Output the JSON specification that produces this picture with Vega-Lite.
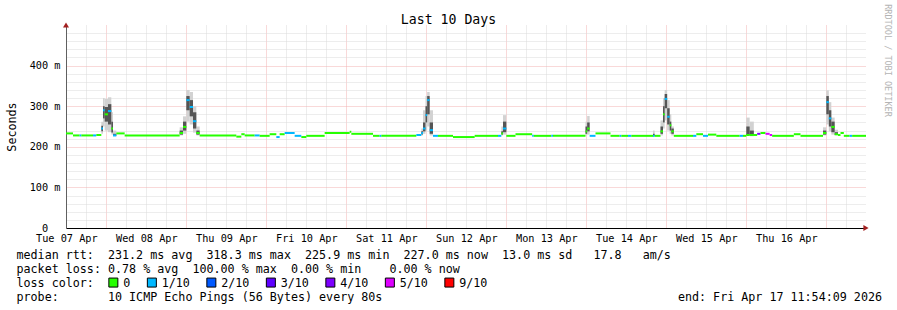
{
  "$schema": "https://vega.github.io/schema/vega-lite/v6.json",
  "width": 800,
  "height": 203,
  "autosize": {"type": "none"},
  "padding": {"left": 66, "top": 25, "right": 31, "bottom": 82},
  "background": "#ffffff",
  "config": {"view": {"stroke": null}, "font": "DejaVu Sans Mono", "legend": {"symbolStrokeColor": "#000000", "symbolStrokeWidth": 1}},
  "data": {"values": [
    {"t0":"2026-04-07T11:54:09Z","t1":"2026-04-07T14:00:00Z","med":233,"loss":"0"},
    {"t0":"2026-04-07T14:00:00Z","t1":"2026-04-07T16:00:00Z","med":228,"loss":"0"},
    {"t0":"2026-04-07T16:00:00Z","t1":"2026-04-07T16:30:00Z","med":228,"loss":"1/10"},
    {"t0":"2026-04-07T16:30:00Z","t1":"2026-04-07T20:00:00Z","med":228,"loss":"0"},
    {"t0":"2026-04-07T20:00:00Z","t1":"2026-04-07T21:00:00Z","med":228,"loss":"1/10"},
    {"t0":"2026-04-07T21:00:00Z","t1":"2026-04-07T22:30:00Z","med":229,"loss":"0"},
    {"t0":"2026-04-07T22:30:00Z","t1":"2026-04-07T23:00:00Z","med":245,"loss":"1/10","lo":232,"q1":238,"q3":252,"hi":262},
    {"t0":"2026-04-07T23:00:00Z","t1":"2026-04-07T23:30:00Z","med":290,"loss":"1/10","lo":250,"q1":270,"q3":300,"hi":320},
    {"t0":"2026-04-07T23:30:00Z","t1":"2026-04-08T00:30:00Z","med":280,"loss":"0","lo":240,"q1":262,"q3":298,"hi":318},
    {"t0":"2026-04-08T00:30:00Z","t1":"2026-04-08T01:30:00Z","med":288,"loss":"1/10","lo":236,"q1":255,"q3":305,"hi":322},
    {"t0":"2026-04-08T01:30:00Z","t1":"2026-04-08T02:00:00Z","med":245,"loss":"0","lo":230,"q1":235,"q3":262,"hi":285},
    {"t0":"2026-04-08T02:00:00Z","t1":"2026-04-08T03:00:00Z","med":228,"loss":"1/10","lo":226,"q1":227,"q3":232,"hi":240},
    {"t0":"2026-04-08T03:00:00Z","t1":"2026-04-08T05:30:00Z","med":233,"loss":"0"},
    {"t0":"2026-04-08T05:30:00Z","t1":"2026-04-08T22:00:00Z","med":228,"loss":"0"},
    {"t0":"2026-04-08T22:00:00Z","t1":"2026-04-08T23:00:00Z","med":234,"loss":"0","lo":228,"q1":230,"q3":240,"hi":248},
    {"t0":"2026-04-08T23:00:00Z","t1":"2026-04-09T00:00:00Z","med":249,"loss":"0","lo":232,"q1":240,"q3":262,"hi":275},
    {"t0":"2026-04-09T00:00:00Z","t1":"2026-04-09T01:00:00Z","med":315,"loss":"1/10","lo":262,"q1":290,"q3":325,"hi":340},
    {"t0":"2026-04-09T01:00:00Z","t1":"2026-04-09T02:00:00Z","med":298,"loss":"1/10","lo":255,"q1":275,"q3":315,"hi":335},
    {"t0":"2026-04-09T02:00:00Z","t1":"2026-04-09T03:00:00Z","med":263,"loss":"1/10","lo":235,"q1":245,"q3":285,"hi":300},
    {"t0":"2026-04-09T03:00:00Z","t1":"2026-04-09T04:00:00Z","med":234,"loss":"0","lo":228,"q1":230,"q3":240,"hi":250},
    {"t0":"2026-04-09T04:00:00Z","t1":"2026-04-09T15:00:00Z","med":228,"loss":"0"},
    {"t0":"2026-04-09T15:00:00Z","t1":"2026-04-09T16:30:00Z","med":225,"loss":"0"},
    {"t0":"2026-04-09T16:30:00Z","t1":"2026-04-09T17:30:00Z","med":231,"loss":"0"},
    {"t0":"2026-04-09T17:30:00Z","t1":"2026-04-09T20:30:00Z","med":228,"loss":"0"},
    {"t0":"2026-04-09T20:30:00Z","t1":"2026-04-09T22:00:00Z","med":228,"loss":"1/10"},
    {"t0":"2026-04-09T22:00:00Z","t1":"2026-04-10T01:00:00Z","med":227,"loss":"0"},
    {"t0":"2026-04-10T01:00:00Z","t1":"2026-04-10T03:00:00Z","med":231,"loss":"0"},
    {"t0":"2026-04-10T03:00:00Z","t1":"2026-04-10T04:00:00Z","med":224,"loss":"1/10"},
    {"t0":"2026-04-10T04:00:00Z","t1":"2026-04-10T05:30:00Z","med":231,"loss":"0"},
    {"t0":"2026-04-10T05:30:00Z","t1":"2026-04-10T08:30:00Z","med":234,"loss":"1/10"},
    {"t0":"2026-04-10T08:30:00Z","t1":"2026-04-10T10:30:00Z","med":227,"loss":"1/10"},
    {"t0":"2026-04-10T10:30:00Z","t1":"2026-04-10T12:00:00Z","med":224,"loss":"0"},
    {"t0":"2026-04-10T12:00:00Z","t1":"2026-04-10T17:30:00Z","med":227,"loss":"0"},
    {"t0":"2026-04-10T17:30:00Z","t1":"2026-04-11T01:00:00Z","med":234,"loss":"0"},
    {"t0":"2026-04-11T01:00:00Z","t1":"2026-04-11T01:30:00Z","med":237,"loss":"0"},
    {"t0":"2026-04-11T01:30:00Z","t1":"2026-04-11T08:00:00Z","med":232,"loss":"0"},
    {"t0":"2026-04-11T08:00:00Z","t1":"2026-04-11T10:00:00Z","med":227,"loss":"0"},
    {"t0":"2026-04-11T10:00:00Z","t1":"2026-04-11T10:30:00Z","med":227,"loss":"1/10"},
    {"t0":"2026-04-11T10:30:00Z","t1":"2026-04-11T21:00:00Z","med":227,"loss":"0"},
    {"t0":"2026-04-11T21:00:00Z","t1":"2026-04-11T22:30:00Z","med":229,"loss":"1/10"},
    {"t0":"2026-04-11T22:30:00Z","t1":"2026-04-11T23:00:00Z","med":234,"loss":"1/10","lo":228,"q1":230,"q3":238,"hi":245},
    {"t0":"2026-04-11T23:00:00Z","t1":"2026-04-11T23:45:00Z","med":245,"loss":"1/10","lo":232,"q1":238,"q3":260,"hi":290},
    {"t0":"2026-04-11T23:45:00Z","t1":"2026-04-12T00:15:00Z","med":278,"loss":"1/10","lo":240,"q1":260,"q3":300,"hi":325},
    {"t0":"2026-04-12T00:15:00Z","t1":"2026-04-12T01:00:00Z","med":315,"loss":"1/10","lo":250,"q1":280,"q3":325,"hi":335},
    {"t0":"2026-04-12T01:00:00Z","t1":"2026-04-12T02:00:00Z","med":241,"loss":"1/10","lo":228,"q1":232,"q3":260,"hi":290},
    {"t0":"2026-04-12T02:00:00Z","t1":"2026-04-12T03:30:00Z","med":227,"loss":"1/10"},
    {"t0":"2026-04-12T03:30:00Z","t1":"2026-04-12T08:00:00Z","med":227,"loss":"0"},
    {"t0":"2026-04-12T08:00:00Z","t1":"2026-04-12T14:30:00Z","med":224,"loss":"0"},
    {"t0":"2026-04-12T14:30:00Z","t1":"2026-04-12T21:30:00Z","med":227,"loss":"0"},
    {"t0":"2026-04-12T21:30:00Z","t1":"2026-04-12T22:30:00Z","med":227,"loss":"1/10"},
    {"t0":"2026-04-12T22:30:00Z","t1":"2026-04-12T23:00:00Z","med":233,"loss":"0","lo":228,"q1":230,"q3":238,"hi":250},
    {"t0":"2026-04-12T23:00:00Z","t1":"2026-04-13T00:00:00Z","med":245,"loss":"1/10","lo":230,"q1":236,"q3":262,"hi":278},
    {"t0":"2026-04-13T00:00:00Z","t1":"2026-04-13T02:45:00Z","med":227,"loss":"0"},
    {"t0":"2026-04-13T02:45:00Z","t1":"2026-04-13T07:45:00Z","med":231,"loss":"0"},
    {"t0":"2026-04-13T07:45:00Z","t1":"2026-04-13T08:15:00Z","med":227,"loss":"1/10"},
    {"t0":"2026-04-13T08:15:00Z","t1":"2026-04-13T13:30:00Z","med":227,"loss":"0"},
    {"t0":"2026-04-13T13:30:00Z","t1":"2026-04-13T14:00:00Z","med":227,"loss":"1/10"},
    {"t0":"2026-04-13T14:00:00Z","t1":"2026-04-13T23:45:00Z","med":227,"loss":"0"},
    {"t0":"2026-04-13T23:45:00Z","t1":"2026-04-14T00:15:00Z","med":238,"loss":"0","lo":228,"q1":232,"q3":250,"hi":262},
    {"t0":"2026-04-14T00:15:00Z","t1":"2026-04-14T01:00:00Z","med":245,"loss":"0","lo":230,"q1":238,"q3":260,"hi":276},
    {"t0":"2026-04-14T01:00:00Z","t1":"2026-04-14T02:45:00Z","med":227,"loss":"1/10"},
    {"t0":"2026-04-14T02:45:00Z","t1":"2026-04-14T07:15:00Z","med":233,"loss":"0"},
    {"t0":"2026-04-14T07:15:00Z","t1":"2026-04-14T10:00:00Z","med":227,"loss":"0"},
    {"t0":"2026-04-14T10:00:00Z","t1":"2026-04-14T10:30:00Z","med":227,"loss":"1/10"},
    {"t0":"2026-04-14T10:30:00Z","t1":"2026-04-14T12:30:00Z","med":227,"loss":"0"},
    {"t0":"2026-04-14T12:30:00Z","t1":"2026-04-14T13:30:00Z","med":227,"loss":"1/10"},
    {"t0":"2026-04-14T13:30:00Z","t1":"2026-04-14T20:00:00Z","med":227,"loss":"0"},
    {"t0":"2026-04-14T20:00:00Z","t1":"2026-04-14T20:30:00Z","med":227,"loss":"1/10","lo":225,"q1":227,"q3":232,"hi":240},
    {"t0":"2026-04-14T20:30:00Z","t1":"2026-04-14T22:15:00Z","med":227,"loss":"0"},
    {"t0":"2026-04-14T22:15:00Z","t1":"2026-04-14T23:00:00Z","med":238,"loss":"0","lo":228,"q1":232,"q3":250,"hi":265},
    {"t0":"2026-04-14T23:00:00Z","t1":"2026-04-14T23:30:00Z","med":280,"loss":"0","lo":245,"q1":260,"q3":300,"hi":320},
    {"t0":"2026-04-14T23:30:00Z","t1":"2026-04-15T00:15:00Z","med":318,"loss":"1/10","lo":265,"q1":295,"q3":330,"hi":340},
    {"t0":"2026-04-15T00:15:00Z","t1":"2026-04-15T01:00:00Z","med":274,"loss":"1/10","lo":240,"q1":255,"q3":295,"hi":315},
    {"t0":"2026-04-15T01:00:00Z","t1":"2026-04-15T01:30:00Z","med":253,"loss":"0","lo":232,"q1":240,"q3":262,"hi":280},
    {"t0":"2026-04-15T01:30:00Z","t1":"2026-04-15T02:15:00Z","med":238,"loss":"0","lo":228,"q1":232,"q3":245,"hi":250},
    {"t0":"2026-04-15T02:15:00Z","t1":"2026-04-15T08:00:00Z","med":227,"loss":"0"},
    {"t0":"2026-04-15T08:00:00Z","t1":"2026-04-15T09:00:00Z","med":227,"loss":"1/10"},
    {"t0":"2026-04-15T09:00:00Z","t1":"2026-04-15T11:00:00Z","med":231,"loss":"0"},
    {"t0":"2026-04-15T11:00:00Z","t1":"2026-04-15T12:30:00Z","med":227,"loss":"1/10"},
    {"t0":"2026-04-15T12:30:00Z","t1":"2026-04-15T15:00:00Z","med":230,"loss":"0"},
    {"t0":"2026-04-15T15:00:00Z","t1":"2026-04-15T22:00:00Z","med":227,"loss":"0"},
    {"t0":"2026-04-15T22:00:00Z","t1":"2026-04-15T23:00:00Z","med":227,"loss":"1/10"},
    {"t0":"2026-04-15T23:00:00Z","t1":"2026-04-16T00:00:00Z","med":227,"loss":"0"},
    {"t0":"2026-04-16T00:00:00Z","t1":"2026-04-16T01:00:00Z","med":229,"loss":"0","lo":227,"q1":229,"q3":250,"hi":272},
    {"t0":"2026-04-16T01:00:00Z","t1":"2026-04-16T02:15:00Z","med":229,"loss":"0","lo":226,"q1":228,"q3":240,"hi":262},
    {"t0":"2026-04-16T02:15:00Z","t1":"2026-04-16T03:15:00Z","med":229,"loss":"0"},
    {"t0":"2026-04-16T03:15:00Z","t1":"2026-04-16T04:15:00Z","med":232,"loss":"4/10"},
    {"t0":"2026-04-16T04:15:00Z","t1":"2026-04-16T05:45:00Z","med":234,"loss":"0"},
    {"t0":"2026-04-16T05:45:00Z","t1":"2026-04-16T07:00:00Z","med":232,"loss":"5/10"},
    {"t0":"2026-04-16T07:00:00Z","t1":"2026-04-16T07:45:00Z","med":229,"loss":"5/10"},
    {"t0":"2026-04-16T07:45:00Z","t1":"2026-04-16T14:15:00Z","med":227,"loss":"0"},
    {"t0":"2026-04-16T14:15:00Z","t1":"2026-04-16T16:15:00Z","med":231,"loss":"0"},
    {"t0":"2026-04-16T16:15:00Z","t1":"2026-04-16T23:00:00Z","med":227,"loss":"0"},
    {"t0":"2026-04-16T23:00:00Z","t1":"2026-04-17T00:00:00Z","med":234,"loss":"0","lo":228,"q1":230,"q3":240,"hi":248},
    {"t0":"2026-04-17T00:00:00Z","t1":"2026-04-17T00:45:00Z","med":310,"loss":"1/10","lo":255,"q1":280,"q3":325,"hi":339},
    {"t0":"2026-04-17T00:45:00Z","t1":"2026-04-17T01:30:00Z","med":270,"loss":"1/10","lo":238,"q1":250,"q3":290,"hi":310},
    {"t0":"2026-04-17T01:30:00Z","t1":"2026-04-17T02:30:00Z","med":249,"loss":"0","lo":230,"q1":236,"q3":262,"hi":272},
    {"t0":"2026-04-17T02:30:00Z","t1":"2026-04-17T03:30:00Z","med":231,"loss":"0","lo":228,"q1":229,"q3":236,"hi":242},
    {"t0":"2026-04-17T03:30:00Z","t1":"2026-04-17T04:15:00Z","med":229,"loss":"0"},
    {"t0":"2026-04-17T04:15:00Z","t1":"2026-04-17T05:15:00Z","med":234,"loss":"0"},
    {"t0":"2026-04-17T05:15:00Z","t1":"2026-04-17T07:00:00Z","med":227,"loss":"0"},
    {"t0":"2026-04-17T07:00:00Z","t1":"2026-04-17T07:45:00Z","med":227,"loss":"1/10"},
    {"t0":"2026-04-17T07:45:00Z","t1":"2026-04-17T11:54:09Z","med":227,"loss":"0"}
  ]},
  "resolve": {"axis": {"x": "independent", "y": "independent"}},
  "layer": [
    {
      "mark": {"type": "rect", "color": "#d2d2d2"},
      "encoding": {
        "x": {
          "field": "t0", "type": "temporal",
          "scale": {"type": "utc", "nice": false, "domain": [1775562849000, 1776426849000]},
          "axis": {
            "orient": "bottom",
            "values": [1775563200000,1775584800000,1775606400000,1775628000000,1775649600000,1775671200000,1775692800000,1775714400000,1775736000000,1775757600000,1775779200000,1775800800000,1775822400000,1775844000000,1775865600000,1775887200000,1775908800000,1775930400000,1775952000000,1775973600000,1775995200000,1776016800000,1776038400000,1776060000000,1776081600000,1776103200000,1776124800000,1776146400000,1776168000000,1776189600000,1776211200000,1776232800000,1776254400000,1776276000000,1776297600000,1776319200000,1776340800000,1776362400000,1776384000000,1776405600000],
            "labelExpr": "utchours(datum.value) == 12 ? utcFormat(datum.value, '%a %d %b') : ''",
            "labelOverlap": false, "labelFlush": false, "labelBound": false,
            "labelFont": "DejaVu Sans Mono", "labelFontSize": 10.24, "labelColor": "#000000",
            "labelPadding": 5.5, "labelAngle": 0,
            "ticks": false,
            "domainColor": "#000000", "domainWidth": 1,
            "grid": true,
            "gridColor": {"condition": {"test": "utchours(datum.value) == 0", "value": "#f2b2b2"}, "value": "#dadada"},
            "gridDash": [1, 1], "gridOpacity": 1, "gridWidth": 1,
            "title": [
              "median rtt:\u00a0\u00a0231.2 ms avg\u00a0\u00a0318.3 ms max\u00a0\u00a0225.9 ms min\u00a0\u00a0227.0 ms now\u00a0\u00a013.0 ms sd\u00a0\u00a0\u00a017.8\u00a0\u00a0\u00a0am/s",
              "packet loss: 0.78 % avg\u00a0\u00a0100.00 % max\u00a0\u00a00.00 % min\u00a0\u00a0\u00a0\u00a00.00 % now",
              "loss color:",
              "probe:\u00a0\u00a0\u00a0\u00a0\u00a0\u00a0\u00a010 ICMP Echo Pings (56 Bytes) every 80s\u00a0\u00a0\u00a0\u00a0\u00a0\u00a0\u00a0\u00a0\u00a0\u00a0\u00a0\u00a0\u00a0\u00a0\u00a0\u00a0\u00a0\u00a0\u00a0\u00a0\u00a0\u00a0\u00a0\u00a0\u00a0\u00a0\u00a0\u00a0\u00a0\u00a0\u00a0\u00a0\u00a0\u00a0\u00a0\u00a0\u00a0\u00a0\u00a0\u00a0\u00a0\u00a0end: Fri Apr 17 11:54:09 2026"
            ],
            "titleFont": "DejaVu Sans Mono", "titleFontSize": 11.7, "titleFontWeight": "normal", "titleColor": "#000000",
            "titleX": -50, "titleY": 30, "titleAlign": "left", "titleAnchor": "start", "titleBaseline": "alphabetic", "titleLineHeight": 14, "titleAngle": 0
          }
        },
        "x2": {"field": "t1"},
        "y": {
          "field": "lo", "type": "quantitative",
          "scale": {"domain": [0, 500], "nice": false},
          "axis": {
            "orient": "left",
            "values": [0,20,40,60,80,100,120,140,160,180,200,220,240,260,280,300,320,340,360,380,400,420,440,460,480],
            "labelExpr": "datum.value % 100 == 0 ? (datum.value == 0 ? '0\u00a0\u00a0\u200b' : datum.value + ' m') : ''",
            "labelFont": "DejaVu Sans Mono", "labelFontSize": 10.24, "labelColor": "#000000",
            "labelPadding": 6, "labelOverlap": false, "labelFlush": false, "labelBound": false, "labelBaseline": "middle",
            "ticks": false,
            "domainColor": "#606060", "domainWidth": 1,
            "grid": true,
            "gridColor": {"condition": {"test": "datum.value % 100 == 0", "value": "#f2b2b2"}, "value": "#dadada"},
            "gridDash": [1, 1], "gridOpacity": 1, "gridWidth": 1,
            "title": "Seconds",
            "titleFont": "DejaVu Sans Mono", "titleFontSize": 11.7, "titleFontWeight": "normal", "titleColor": "#000000",
            "titleX": -55, "titleY": 101.5, "titleAngle": 270, "titleAlign": "center", "titleBaseline": "middle"
          }
        },
        "y2": {"field": "hi"}
      }
    },
    {
      "mark": {"type": "rect", "color": "#555555"},
      "encoding": {
        "x": {"field": "t0", "type": "temporal", "axis": null},
        "x2": {"field": "t1"},
        "y": {"field": "q1", "type": "quantitative", "axis": null},
        "y2": {"field": "q3"}
      }
    },
    {
      "mark": {"type": "rect", "height": 2},
      "encoding": {
        "x": {
          "field": "t0", "type": "temporal",
          "axis": {
            "orient": "top", "domain": false, "ticks": false, "labels": false, "grid": false,
            "title": "Last 10 Days",
            "titleFont": "DejaVu Sans Mono", "titleFontSize": 13.2, "titleFontWeight": "normal", "titleColor": "#000000",
            "titleX": 382, "titleY": -1.5, "titleAlign": "center", "titleBaseline": "alphabetic", "titleAngle": 0
          }
        },
        "x2": {"field": "t1"},
        "y": {
          "field": "med", "type": "quantitative",
          "axis": {
            "orient": "right", "domain": false, "ticks": false, "labels": false, "grid": false,
            "title": "RRDTOOL / TOBI OETIKER",
            "titleFont": "DejaVu Sans Mono", "titleFontSize": 8.5, "titleFontWeight": "normal", "titleColor": "#b4b4b4",
            "titleX": 21.7, "titleY": 35, "titleAngle": 90, "titleAlign": "center", "titleBaseline": "middle"
          }
        },
        "fill": {
          "field": "loss", "type": "nominal",
          "scale": {
            "domain": ["0", "1/10", "2/10", "3/10", "4/10", "5/10", "9/10"],
            "range": ["#26ff00", "#00b8ff", "#0059ff", "#5e00ff", "#7e00ff", "#dd00ff", "#ff0000"]
          },
          "legend": {
            "orient": "none", "legendX": 41.5, "legendY": 251.5, "direction": "horizontal", "title": null,
            "symbolType": "square", "symbolSize": 81, "symbolStrokeColor": "#000000", "symbolStrokeWidth": 1, "symbolOpacity": 1,
            "labelFont": "DejaVu Sans Mono", "labelFontSize": 11.7, "labelColor": "#000000", "labelOffset": 4,
            "columnPadding": 14.5, "padding": 0, "labelLimit": 0
          }
        }
      }
    },
    {
      "data": {"values": [
        {"axisEnd": "x", "t": "2026-04-17T11:54:09Z", "v": 0},
        {"axisEnd": "y", "t": "2026-04-07T11:54:09Z", "v": 500}
      ]},
      "mark": {"type": "point", "filled": true, "size": 36, "color": "#a32020", "opacity": 1},
      "encoding": {
        "x": {"field": "t", "type": "temporal", "axis": null},
        "y": {"field": "v", "type": "quantitative", "axis": null},
        "shape": {"field": "axisEnd", "type": "nominal", "scale": {"domain": ["x", "y"], "range": ["triangle-right", "triangle-up"]}, "legend": null},
        "xOffset": {"field": "axisEnd", "type": "nominal", "scale": {"domain": ["x", "y"], "range": [3, 0]}},
        "yOffset": {"field": "axisEnd", "type": "nominal", "scale": {"domain": ["x", "y"], "range": [0, -2]}}
      }
    }
  ]
}
